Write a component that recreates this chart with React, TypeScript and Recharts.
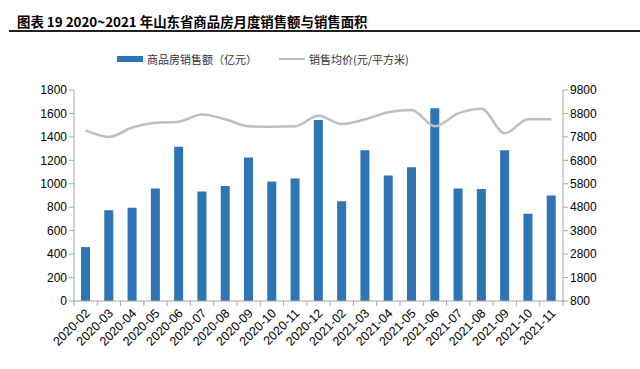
import React from "react";
import { ComposedChart, Bar, Line, XAxis, YAxis } from "recharts";

const months = [
  "2020-02", "2020-03", "2020-04", "2020-05", "2020-06", "2020-07", "2020-08",
  "2020-09", "2020-10", "2020-11", "2020-12", "2021-02", "2021-03", "2021-04",
  "2021-05", "2021-06", "2021-07", "2021-08", "2021-09", "2021-10", "2021-11",
];
const salesAmount = [
  460, 775, 795, 960, 1315, 935, 980, 1225, 1020, 1045, 1545, 850, 1285, 1070,
  1140, 1645, 960, 955, 1285, 745, 900,
];
const avgPrice = [
  8080, 7800, 8200, 8400, 8450, 8750, 8550, 8250, 8230, 8250, 8700, 8350, 8550,
  8850, 8950, 8250, 8800, 9000, 7950, 8550, 8550,
];
const leftTicks = [0, 200, 400, 600, 800, 1000, 1200, 1400, 1600, 1800];
const rightTicks = [800, 1800, 2800, 3800, 4800, 5800, 6800, 7800, 8800, 9800];

const data = months.map((m, i) => ({ month: m, amount: salesAmount[i], price: avgPrice[i] }));

const PLOT_LEFT = 74;
const PLOT_RIGHT = 563;
const STEP = (PLOT_RIGHT - PLOT_LEFT) / months.length;
const AXIS = "#A6A6A6";
const FONT = "Arial, 'Liberation Sans', sans-serif";

const XTick = (props: any) => {
  const { x, y, payload, index } = props;
  return (
    <g>
      <line x1={x - STEP / 2} y1={y - 8} x2={x - STEP / 2} y2={y - 3} stroke={AXIS} />
      {index === months.length - 1 && (
        <line x1={x + STEP / 2} y1={y - 8} x2={x + STEP / 2} y2={y - 3} stroke={AXIS} />
      )}
      <text
        x={x + 5}
        y={y + 5}
        transform={`rotate(-45, ${x + 5}, ${y + 5})`}
        textAnchor="end"
        fontSize={12.5}
        fontFamily={FONT}
        fill="#000"
      >
        {payload.value}
      </text>
    </g>
  );
};

export default function App() {
  return (
    <div style={{ position: "absolute", left: 0, top: 0, width: 640, height: 369, background: "#fff" }}>
      <div
        style={{
          position: "absolute",
          left: 17,
          top: 11,
          fontFamily: "'Noto Sans CJK SC', sans-serif",
          fontWeight: 700,
          fontSize: 13.4,
          color: "#000",
          whiteSpace: "nowrap",
        }}
      >
        图表 19 2020~2021 年山东省商品房月度销售额与销售面积
      </div>
      <div style={{ position: "absolute", left: 9, top: 30, width: 631, height: 2, background: "#222" }} />
      <div
        style={{
          position: "absolute",
          top: 51,
          left: 117,
          display: "flex",
          alignItems: "center",
          fontFamily: "'Noto Sans CJK SC', sans-serif",
          fontSize: 11,
          color: "#333",
          whiteSpace: "nowrap",
        }}
      >
        <span style={{ display: "inline-block", width: 26, height: 6, background: "#2E75B6", marginRight: 4 }} />
        <span>商品房销售额（亿元）</span>
        <span style={{ display: "inline-block", width: 26, height: 2.5, background: "#BFBFBF", marginLeft: 22, marginRight: 4 }} />
        <span>销售均价(元/平方米)</span>
      </div>
      <ComposedChart
        width={640}
        height={369}
        data={data}
        margin={{ top: 90, right: 0, bottom: 0, left: 0 }}
      >
        <XAxis
          dataKey="month"
          interval={0}
          height={68}
          stroke={AXIS}
          tickLine={false}
          tick={<XTick />}
        />
        <YAxis
          yAxisId="left"
          width={PLOT_LEFT}
          domain={[0, 1800]}
          ticks={leftTicks}
          interval={0}
          stroke={AXIS}
          tickSize={5}
          tick={{ fill: "#000", fontSize: 12, fontFamily: FONT }}
        />
        <YAxis
          yAxisId="right"
          orientation="right"
          width={640 - PLOT_RIGHT}
          domain={[800, 9800]}
          ticks={rightTicks}
          interval={0}
          stroke={AXIS}
          tickSize={5}
          tick={{ fill: "#000", fontSize: 12, fontFamily: FONT }}
        />
        <Bar yAxisId="left" dataKey="amount" fill="#2E75B6" barSize={9} isAnimationActive={false} />
        <Line
          yAxisId="right"
          dataKey="price"
          type="monotone"
          stroke="#BFBFBF"
          strokeWidth={2.5}
          dot={false}
          isAnimationActive={false}
        />
      </ComposedChart>
    </div>
  );
}
